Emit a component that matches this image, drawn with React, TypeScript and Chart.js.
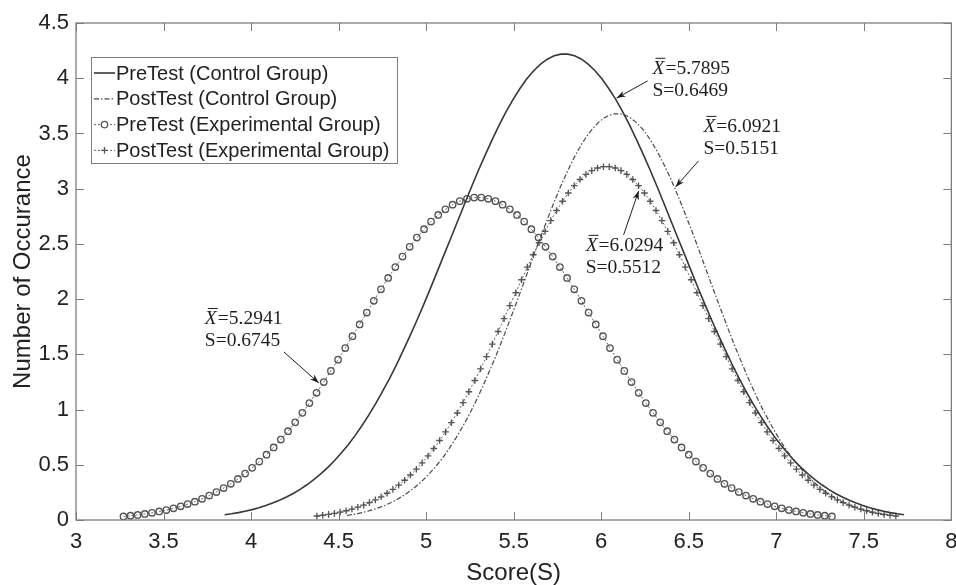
import React, { useEffect, useRef } from "react";
import { Chart, registerables } from "chart.js";

Chart.register(...registerables);

// ---------------- data ----------------
const seriesLabels = [
  "PreTest (Control Group)",
  "PostTest (Control Group)",
  "PreTest (Experimental Group)",
  "PostTest (Experimental Group)",
];

const xTicks = [3, 3.5, 4, 4.5, 5, 5.5, 6, 6.5, 7, 7.5, 8];
const yTicks = [0, 0.5, 1, 1.5, 2, 2.5, 3, 3.5, 4, 4.5];
const xTickLabels = ["3", "3.5", "4", "4.5", "5", "5.5", "6", "6.5", "7", "7.5", "8"];
const yTickLabels = ["0", "0.5", "1", "1.5", "2", "2.5", "3", "3.5", "4", "4.5"];

// PreTest (Control Group) - solid
const preControlX = [3.849,3.888,3.927,3.966,4.006,4.045,4.084,4.123,4.162,4.202,4.241,4.280,4.319,4.358,4.398,4.437,4.476,4.515,4.555,4.594,4.633,4.672,4.711,4.750,4.790,4.829,4.868,4.907,4.947,4.986,5.025,5.064,5.103,5.143,5.182,5.221,5.260,5.299,5.339,5.378,5.417,5.456,5.496,5.535,5.574,5.613,5.652,5.692,5.731,5.770,5.809,5.848,5.888,5.927,5.966,6.005,6.044,6.084,6.123,6.162,6.201,6.240,6.280,6.319,6.358,6.397,6.436,6.476,6.515,6.554,6.593,6.632,6.672,6.711,6.750,6.789,6.828,6.868,6.907,6.946,6.985,7.025,7.064,7.103,7.142,7.181,7.221,7.260,7.299,7.338,7.377,7.417,7.456,7.495,7.534,7.573,7.613,7.652,7.691,7.730];
const preControlY = [0.047,0.056,0.067,0.080,0.094,0.111,0.131,0.153,0.179,0.208,0.240,0.277,0.319,0.365,0.417,0.474,0.537,0.607,0.682,0.764,0.853,0.949,1.052,1.162,1.278,1.401,1.531,1.665,1.806,1.950,2.099,2.251,2.405,2.560,2.714,2.868,3.020,3.167,3.310,3.446,3.575,3.696,3.806,3.905,3.992,4.066,4.126,4.172,4.203,4.218,4.218,4.203,4.172,4.126,4.066,3.992,3.905,3.806,3.696,3.575,3.446,3.310,3.167,3.020,2.868,2.714,2.560,2.405,2.251,2.099,1.950,1.806,1.665,1.531,1.401,1.278,1.162,1.052,0.949,0.853,0.764,0.682,0.607,0.537,0.474,0.417,0.365,0.319,0.277,0.240,0.208,0.179,0.153,0.131,0.111,0.094,0.080,0.067,0.056,0.047];

// PostTest (Control Group) - dash-dot
const postControlX = [4.547,4.578,4.609,4.640,4.672,4.703,4.734,4.765,4.797,4.828,4.859,4.890,4.921,4.953,4.984,5.015,5.046,5.078,5.109,5.140,5.171,5.202,5.234,5.265,5.296,5.327,5.358,5.390,5.421,5.452,5.483,5.515,5.546,5.577,5.608,5.639,5.671,5.702,5.733,5.764,5.796,5.827,5.858,5.889,5.920,5.952,5.983,6.014,6.045,6.077,6.108,6.139,6.170,6.201,6.233,6.264,6.295,6.326,6.357,6.389,6.420,6.451,6.482,6.514,6.545,6.576,6.607,6.638,6.670,6.701,6.732,6.763,6.795,6.826,6.857,6.888,6.919,6.951,6.982,7.013,7.044,7.076,7.107,7.138,7.169,7.200,7.232,7.263,7.294,7.325,7.356,7.388,7.419,7.450,7.481,7.513,7.544,7.575,7.606,7.637];
const postControlY = [0.041,0.049,0.058,0.069,0.082,0.097,0.114,0.133,0.156,0.181,0.210,0.242,0.278,0.319,0.364,0.414,0.469,0.529,0.595,0.667,0.744,0.828,0.918,1.013,1.115,1.222,1.335,1.452,1.575,1.701,1.830,1.963,2.097,2.232,2.367,2.501,2.633,2.762,2.886,3.005,3.118,3.223,3.319,3.405,3.481,3.546,3.598,3.638,3.665,3.678,3.678,3.665,3.638,3.598,3.546,3.481,3.405,3.319,3.223,3.118,3.005,2.886,2.762,2.633,2.501,2.367,2.232,2.097,1.963,1.830,1.701,1.575,1.452,1.335,1.222,1.115,1.013,0.918,0.828,0.744,0.667,0.595,0.529,0.469,0.414,0.364,0.319,0.278,0.242,0.210,0.181,0.156,0.133,0.114,0.097,0.082,0.069,0.058,0.049,0.041];

// PreTest (Experimental Group) - circles
const preExpX = [3.271,3.311,3.352,3.393,3.434,3.475,3.516,3.557,3.598,3.638,3.679,3.720,3.761,3.802,3.843,3.884,3.925,3.966,4.006,4.047,4.088,4.129,4.170,4.211,4.252,4.293,4.333,4.374,4.415,4.456,4.497,4.538,4.579,4.620,4.661,4.701,4.742,4.783,4.824,4.865,4.906,4.947,4.988,5.028,5.069,5.110,5.151,5.192,5.233,5.274,5.315,5.355,5.396,5.437,5.478,5.519,5.560,5.601,5.642,5.682,5.723,5.764,5.805,5.846,5.887,5.928,5.969,6.010,6.050,6.091,6.132,6.173,6.214,6.255,6.296,6.337,6.377,6.418,6.459,6.500,6.541,6.582,6.623,6.664,6.704,6.745,6.786,6.827,6.868,6.909,6.950,6.991,7.031,7.072,7.113,7.154,7.195,7.236,7.277,7.318];
const preExpY = [0.032,0.039,0.046,0.055,0.065,0.077,0.090,0.106,0.124,0.144,0.166,0.192,0.221,0.253,0.289,0.328,0.372,0.420,0.472,0.529,0.591,0.657,0.728,0.804,0.885,0.970,1.059,1.152,1.249,1.350,1.452,1.557,1.664,1.771,1.878,1.985,2.089,2.192,2.290,2.385,2.474,2.557,2.633,2.702,2.762,2.813,2.855,2.887,2.908,2.919,2.919,2.908,2.887,2.855,2.813,2.762,2.702,2.633,2.557,2.474,2.385,2.290,2.192,2.089,1.985,1.878,1.771,1.664,1.557,1.452,1.350,1.249,1.152,1.059,0.970,0.885,0.804,0.728,0.657,0.591,0.529,0.472,0.420,0.372,0.328,0.289,0.253,0.221,0.192,0.166,0.144,0.124,0.106,0.090,0.077,0.065,0.055,0.046,0.039,0.032];

// PostTest (Experimental Group) - plus markers
const postExpX = [4.376,4.409,4.443,4.476,4.509,4.543,4.576,4.610,4.643,4.676,4.710,4.743,4.777,4.810,4.843,4.877,4.910,4.944,4.977,5.011,5.044,5.077,5.111,5.144,5.178,5.211,5.244,5.278,5.311,5.345,5.378,5.411,5.445,5.478,5.512,5.545,5.578,5.612,5.645,5.679,5.712,5.745,5.779,5.812,5.846,5.879,5.913,5.946,5.979,6.013,6.046,6.080,6.113,6.146,6.180,6.213,6.247,6.280,6.313,6.347,6.380,6.414,6.447,6.480,6.514,6.547,6.581,6.614,6.647,6.681,6.714,6.748,6.781,6.814,6.848,6.881,6.915,6.948,6.982,7.015,7.048,7.082,7.115,7.149,7.182,7.215,7.249,7.282,7.316,7.349,7.382,7.416,7.449,7.483,7.516,7.549,7.583,7.616,7.650,7.683];
const postExpY = [0.036,0.043,0.051,0.060,0.071,0.084,0.099,0.116,0.135,0.157,0.182,0.210,0.242,0.277,0.316,0.360,0.407,0.460,0.517,0.580,0.647,0.720,0.798,0.881,0.969,1.063,1.161,1.263,1.369,1.479,1.592,1.707,1.823,1.941,2.058,2.175,2.290,2.402,2.510,2.613,2.711,2.802,2.886,2.961,3.027,3.083,3.129,3.163,3.187,3.199,3.199,3.187,3.163,3.129,3.083,3.027,2.961,2.886,2.802,2.711,2.613,2.510,2.402,2.290,2.175,2.058,1.941,1.823,1.707,1.592,1.479,1.369,1.263,1.161,1.063,0.969,0.881,0.798,0.720,0.647,0.580,0.517,0.460,0.407,0.360,0.316,0.277,0.242,0.210,0.182,0.157,0.135,0.116,0.099,0.084,0.071,0.060,0.051,0.043,0.036];

// annotations: mean / S text, text anchor (data units), arrow tail and head (data units)
const annMeans = ["5.7895", "6.0921", "6.0294", "5.2941"];
const annSDs = ["0.6469", "0.5151", "0.5512", "0.6745"];
const annTextX = [6.293, 6.584, 5.911, 3.736];
const annTextY = [4.04, 3.514, 2.437, 1.775];
const annFromX = [6.265, 6.556, 6.128, 4.187];
const annFromY = [3.976, 3.252, 2.582, 1.522];
const annToX = [6.088, 6.425, 6.214, 4.387];
const annToY = [3.82, 3.016, 2.98, 1.241];

// ---------------- styling ----------------
const TEXT = "#222222";
const AXIS = "#7d7d7d";
const SANS = "'Liberation Sans', Arial, sans-serif";
const SERIF = "'Liberation Serif', 'Times New Roman', serif";

function pts(xs: number[], ys: number[]) {
  const n = Math.min(xs.length, ys.length);
  const out: { x: number; y: number }[] = [];
  for (let i = 0; i < n; i++) out.push({ x: xs[i], y: ys[i] });
  return out;
}

const styles = [
  { color: "#383838", width: 1.6, dash: [] as number[], point: false as any, radius: 0 },
  { color: "#4a4a4a", width: 1.2, dash: [5, 2, 1.5, 2], point: false as any, radius: 0 },
  { color: "#555555", width: 0.9, dash: [2, 2], point: "circle", radius: 3.2 },
  { color: "#555555", width: 0.9, dash: [2, 2], point: "cross", radius: 3.3 },
];

const extrasPlugin = {
  id: "extras",
  afterDraw(chart: any) {
    const { ctx, chartArea: a, scales } = chart;
    const xs = scales.x;
    const ys = scales.y;
    ctx.save();
    // frame
    ctx.strokeStyle = AXIS;
    ctx.lineWidth = 1.3;
    ctx.strokeRect(a.left, a.top, a.right - a.left, a.bottom - a.top);
    // inward ticks on all four sides
    ctx.lineWidth = 1;
    ctx.beginPath();
    xTicks.forEach((v) => {
      const px = Math.round(xs.getPixelForValue(v)) + 0.5;
      ctx.moveTo(px, a.bottom);
      ctx.lineTo(px, a.bottom - 8);
      ctx.moveTo(px, a.top);
      ctx.lineTo(px, a.top + 8);
    });
    yTicks.forEach((v) => {
      const py = Math.round(ys.getPixelForValue(v)) + 0.5;
      ctx.moveTo(a.left, py);
      ctx.lineTo(a.left + 8, py);
      ctx.moveTo(a.right, py);
      ctx.lineTo(a.right - 8, py);
    });
    ctx.stroke();

    // legend
    const lx = 91, ly = 57, lw = 306, lh = 106;
    ctx.fillStyle = "#ffffff";
    ctx.fillRect(lx, ly, lw, lh);
    ctx.strokeStyle = AXIS;
    ctx.lineWidth = 1;
    ctx.strokeRect(lx + 0.5, ly + 0.5, lw, lh);
    ctx.font = `20px ${SANS}`;
    ctx.textBaseline = "middle";
    ctx.textAlign = "left";
    seriesLabels.forEach((lab, i) => {
      const cy = ly + 16 + i * 25.8;
      const st = styles[i];
      ctx.strokeStyle = st.color;
      ctx.lineWidth = st.width;
      ctx.setLineDash(st.dash);
      ctx.beginPath();
      ctx.moveTo(lx + 3, cy);
      ctx.lineTo(lx + 24, cy);
      ctx.stroke();
      ctx.setLineDash([]);
      if (st.point) {
        const mx = lx + 13.5;
        ctx.lineWidth = 1.3;
        ctx.beginPath();
        if (st.point === "circle") {
          ctx.fillStyle = "#fff";
          ctx.arc(mx, cy, st.radius, 0, Math.PI * 2);
          ctx.fill();
          ctx.stroke();
        } else {
          ctx.moveTo(mx - st.radius, cy);
          ctx.lineTo(mx + st.radius, cy);
          ctx.moveTo(mx, cy - st.radius);
          ctx.lineTo(mx, cy + st.radius);
          ctx.stroke();
        }
      }
      ctx.fillStyle = "#222";
      ctx.fillText(lab, lx + 25, cy + 1);
    });

    // annotations
    ctx.fillStyle = "#1e1e1e";
    ctx.strokeStyle = "#1e1e1e";
    ctx.textBaseline = "alphabetic";
    for (let i = 0; i < annMeans.length; i++) {
      const tx = xs.getPixelForValue(annTextX[i]);
      const ty = ys.getPixelForValue(annTextY[i]);
      ctx.font = `italic 19.5px ${SERIF}`;
      ctx.fillText("X", tx, ty);
      const wX = ctx.measureText("X").width;
      ctx.lineWidth = 1;
      ctx.beginPath();
      ctx.moveTo(tx + 3, ty - 15.5);
      ctx.lineTo(tx + wX + 1, ty - 15.5);
      ctx.stroke();
      ctx.font = `19.5px ${SERIF}`;
      ctx.fillText("=" + annMeans[i], tx + wX + 1, ty);
      ctx.fillText("S=" + annSDs[i], tx, ty + 22);
      // arrow
      const fx = xs.getPixelForValue(annFromX[i]);
      const fy = ys.getPixelForValue(annFromY[i]);
      const hx = xs.getPixelForValue(annToX[i]);
      const hy = ys.getPixelForValue(annToY[i]);
      ctx.lineWidth = 1;
      ctx.beginPath();
      ctx.moveTo(fx, fy);
      ctx.lineTo(hx, hy);
      ctx.stroke();
      const ang = Math.atan2(hy - fy, hx - fx);
      const L = 9, W = 3.2;
      ctx.beginPath();
      ctx.moveTo(hx, hy);
      ctx.lineTo(hx - L * Math.cos(ang) + W * Math.sin(ang), hy - L * Math.sin(ang) - W * Math.cos(ang));
      ctx.lineTo(hx - L * 0.7 * Math.cos(ang), hy - L * 0.7 * Math.sin(ang));
      ctx.lineTo(hx - L * Math.cos(ang) - W * Math.sin(ang), hy - L * Math.sin(ang) + W * Math.cos(ang));
      ctx.closePath();
      ctx.fill();
    }
    ctx.restore();
  },
};

export default function App() {
  const ref = useRef<HTMLCanvasElement | null>(null);
  useEffect(() => {
    if (!ref.current) return;
    const sets = [
      pts(preControlX, preControlY),
      pts(postControlX, postControlY),
      pts(preExpX, preExpY),
      pts(postExpX, postExpY),
    ];
    const chart = new Chart(ref.current, {
      type: "scatter",
      data: {
        datasets: sets.map((d, i) => ({
          label: seriesLabels[i],
          data: d,
          showLine: true,
          borderColor: styles[i].color,
          borderWidth: styles[i].width,
          borderDash: styles[i].dash,
          pointRadius: styles[i].radius,
          pointStyle: styles[i].point || "circle",
          pointBorderColor: styles[i].color,
          pointBackgroundColor: "rgba(255,255,255,0)",
          pointBorderWidth: 1.35,
          pointHoverRadius: 0,
          tension: 0,
          fill: false,
        })),
      },
      options: {
        animation: false,
        responsive: false,
        devicePixelRatio: 1,
        layout: { padding: { top: 23, right: 4, left: 0, bottom: 0 } },
        plugins: { legend: { display: false }, tooltip: { enabled: false } },
        scales: {
          x: {
            type: "linear",
            min: 3,
            max: 8,
            afterBuildTicks: (s: any) => {
              s.ticks = xTicks.map((v) => ({ value: v }));
            },
            afterFit: (s: any) => {
              s.height = 65;
              s.paddingLeft = 0;
              s.paddingRight = 0;
            },
            grid: { display: false, drawTicks: false },
            border: { display: false },
            ticks: {
              font: { size: 22, family: SANS },
              color: TEXT,
              padding: 9,
              maxRotation: 0,
              autoSkip: false,
              callback: (_v: any, i: number) => xTickLabels[i],
            },
            title: {
              display: true,
              text: "Score(S)",
              font: { size: 24, family: SANS },
              color: TEXT,
              padding: { top: -3, bottom: -3 },
            },
          },
          y: {
            type: "linear",
            min: 0,
            max: 4.5,
            afterBuildTicks: (s: any) => {
              s.ticks = yTicks.map((v) => ({ value: v }));
            },
            afterFit: (s: any) => {
              s.width = 76;
              s.paddingTop = 0;
              s.paddingBottom = 0;
            },
            grid: { display: false, drawTicks: false },
            border: { display: false },
            ticks: {
              font: { size: 22, family: SANS },
              color: TEXT,
              padding: 7,
              autoSkip: false,
              callback: (_v: any, i: number) => yTickLabels[i],
            },
            title: {
              display: true,
              text: "Number of Occurance",
              font: { size: 24, family: SANS },
              color: TEXT,
              padding: { top: 9, bottom: 0 },
            },
          },
        },
      },
      plugins: [extrasPlugin],
    } as any);
    return () => chart.destroy();
  }, []);
  return (
    <div style={{ position: "fixed", left: 0, top: 0, width: 956, height: 585, background: "#fff" }}>
      <canvas ref={ref} width={956} height={585} />
    </div>
  );
}
